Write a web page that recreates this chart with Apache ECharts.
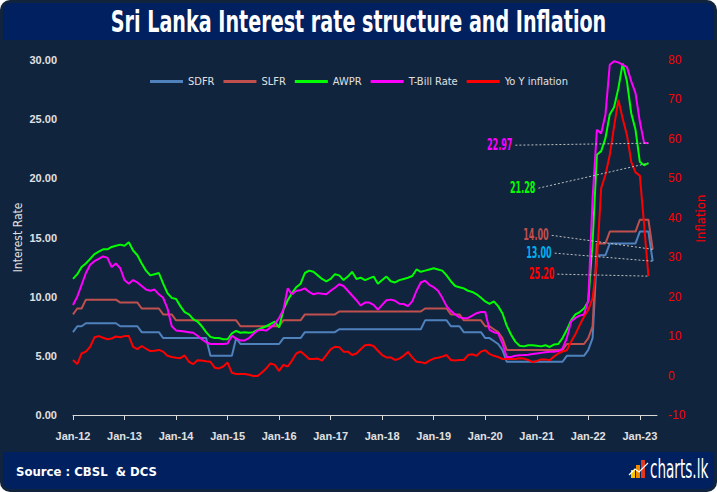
<!DOCTYPE html>
<html>
<head>
<meta charset="utf-8">
<script src="https://cdn.jsdelivr.net/npm/echarts@6.0.0/dist/echarts.min.js"></script>
<style>
html,body{margin:0;padding:0;background:#ffffff;}
#c{width:717px;height:492px;}
</style>
</head>
<body>
<div id="c"></div>
<script>
// ---------------- DATA ----------------
const monthNames = ['Jan','Feb','Mar','Apr','May','Jun','Jul','Aug','Sep','Oct','Nov','Dec'];
const categories = [];
for (let y = 12; y <= 23; y++) {
  for (let m = 0; m < 12; m++) {
    if (y === 23 && m > 4) break;
    categories.push(monthNames[m] + '-' + y);
  }
}
const seriesNames = ['SDFR', 'SLFR', 'AWPR', 'T-Bill Rate', 'Yo Y inflation'];
const leftTicks = [0, 5, 10, 15, 20, 25, 30];
const rightTicks = [-10, 0, 10, 20, 30, 40, 50, 60, 70, 80];

const sdfr = [
  7.00,
  7.50,7.50,
  7.75,7.75,7.75,7.75,7.75,7.75,7.75,7.75,
  7.50,7.50,7.50,7.50,7.50,
  7.00,7.00,7.00,7.00,7.00,
  6.50,6.50,6.50,6.50,6.50,6.50,6.50,6.50,6.50,6.50,6.50,
  5.00,5.00,5.00,5.00,5.00,5.00,
  6.50,
  6.00,6.00,6.00,6.00,6.00,6.00,6.00,6.00,6.00,6.00,
  6.50,6.50,6.50,6.50,6.50,
  7.00,7.00,7.00,7.00,7.00,7.00,7.00,7.00,
  7.25,7.25,7.25,7.25,7.25,7.25,7.25,7.25,7.25,7.25,7.25,7.25,7.25,7.25,7.25,7.25,7.25,7.25,7.25,7.25,
  8.00,8.00,8.00,8.00,8.00,8.00,
  7.50,7.50,7.50,
  7.00,7.00,7.00,7.00,7.00,
  6.50,6.50,
  6.25,
  6.00,
  5.50,
  4.50,4.50,4.50,4.50,4.50,4.50,4.50,4.50,4.50,4.50,4.50,4.50,4.50,4.50,
  5.00,5.00,5.00,5.00,5.00,
  5.50,
  6.50,
  13.50,13.50,13.50,
  14.50,14.50,14.50,14.50,14.50,14.50,14.50,
  15.50,15.50,15.50,
  13.00
];

const slfr = [
  8.50,
  9.00,9.00,
  9.75,9.75,9.75,9.75,9.75,9.75,9.75,9.75,
  9.50,9.50,9.50,9.50,9.50,
  9.00,9.00,9.00,9.00,9.00,
  8.50,8.50,8.50,
  8.00,8.00,8.00,8.00,8.00,8.00,8.00,8.00,8.00,8.00,8.00,8.00,8.00,8.00,8.00,
  7.50,7.50,7.50,7.50,7.50,7.50,7.50,7.50,7.50,7.50,
  8.00,8.00,8.00,8.00,8.00,
  8.50,8.50,8.50,8.50,8.50,8.50,8.50,8.50,
  8.75,8.75,8.75,8.75,8.75,8.75,8.75,8.75,8.75,8.75,8.75,8.75,8.75,8.75,8.75,8.75,8.75,8.75,8.75,8.75,
  9.00,9.00,9.00,9.00,9.00,9.00,
  8.50,8.50,8.50,
  8.00,8.00,8.00,8.00,8.00,
  7.50,7.50,
  7.25,
  7.00,
  6.50,
  5.50,5.50,5.50,5.50,5.50,5.50,5.50,5.50,5.50,5.50,5.50,5.50,5.50,5.50,
  6.00,6.00,6.00,6.00,6.00,
  6.50,
  7.50,
  14.50,14.50,14.50,
  15.50,15.50,15.50,15.50,15.50,15.50,15.50,
  16.50,16.50,16.50,
  14.00
];

const awpr = [
  11.5,11.9,12.5,12.8,13.2,13.6,13.8,14.0,14.0,14.2,14.3,14.4,
  14.3,14.6,13.9,13.5,12.8,12.2,11.8,11.9,12.0,11.1,10.3,9.9,
  9.8,9.2,8.7,8.5,8.1,7.9,7.5,7.0,6.6,6.5,6.5,6.4,
  6.4,6.9,7.1,6.95,7.0,6.95,7.0,7.2,7.35,7.5,7.7,7.9,
  7.4,8.9,9.7,10.3,10.8,11.1,12.0,12.2,12.1,11.8,11.5,11.3,
  11.5,11.9,11.8,11.4,11.7,12.1,11.5,11.6,11.4,11.55,11.7,11.1,
  11.4,11.7,11.3,11.2,11.4,11.5,11.6,11.75,12.3,12.1,12.2,12.3,
  12.4,12.3,12.2,11.8,11.3,10.9,10.8,10.7,10.5,10.4,10.2,9.9,
  9.6,9.4,9.6,9.2,8.6,7.55,6.8,6.2,5.86,5.8,5.9,5.9,
  5.85,5.8,5.9,5.75,5.95,6.0,6.5,7.2,8.0,8.5,8.7,9.0,
  9.6,14.6,22.0,22.3,23.4,25.4,26.0,27.6,29.7,28.2,25.5,24.1,
  21.4,21.1,21.28
];

const tbill = [
  9.3,10.0,11.0,12.0,12.7,13.0,13.2,13.4,13.3,12.5,12.8,12.4,
  11.4,11.1,11.4,11.2,10.9,10.6,10.5,10.6,10.2,9.9,9.0,7.5,
  7.15,7.1,7.05,7.0,6.95,6.7,6.4,6.15,6.0,6.0,6.0,6.0,
  6.05,6.7,6.45,6.3,6.3,6.5,6.85,7.15,7.2,7.13,7.4,7.7,
  8.2,8.9,10.7,10.2,10.5,10.55,10.7,10.4,10.2,10.3,10.25,10.2,
  10.5,10.75,11.05,10.9,10.5,10.1,9.7,9.25,9.5,9.5,9.3,8.9,
  9.3,9.7,9.75,9.66,9.4,9.38,9.2,9.6,10.5,11.2,11.35,11.0,
  10.8,10.5,9.9,9.2,8.8,8.5,8.25,8.17,8.2,8.4,8.6,8.7,
  8.7,7.2,7.0,6.9,6.06,4.9,4.9,5.0,5.05,5.07,5.1,5.15,
  5.2,5.25,5.3,5.35,5.35,5.4,5.6,6.5,7.9,8.2,8.4,8.5,
  9.7,18.3,24.1,23.8,25.4,29.6,29.9,29.8,29.6,29.4,28.2,27.2,
  24.8,23.0,22.97
];

const inflation = [
  3.95,2.9,5.6,6.06,7.3,9.7,10.0,9.6,9.2,9.4,9.9,9.7,
  10.0,10.0,7.3,6.7,7.5,6.8,6.2,6.3,6.5,6.06,5.0,4.7,
  4.5,4.4,5.1,3.5,2.9,3.9,3.8,3.6,3.5,2.0,1.8,2.3,
  3.3,0.7,0.4,0.4,0.4,0.2,-0.1,-0.1,0.8,1.8,3.1,2.7,
  1.2,2.7,2.3,3.8,5.6,6.1,5.2,4.2,4.2,4.3,3.8,5.2,
  6.65,7.3,7.2,6.06,6.06,5.2,5.6,6.65,7.7,7.8,7.5,6.3,
  5.2,4.6,4.6,3.95,4.3,5.0,6.0,4.6,3.5,3.4,3.1,3.8,
  4.3,4.5,4.8,5.2,3.95,3.8,3.95,3.95,5.2,5.4,5.0,6.06,
  6.4,5.5,5.0,4.7,4.2,4.2,4.2,4.2,4.4,4.3,3.95,3.4,
  3.7,4.1,4.1,3.9,4.8,5.6,6.1,6.4,8.6,10.5,12.8,14.9,
  16.6,19.6,28.9,47.5,50.9,55.9,63.1,69.9,65.2,61.0,54.2,51.5,
  50.7,38.2,25.2
];

// ---------------- STYLE ----------------
const FONT_C = '"DejaVu Sans Condensed","Liberation Sans",sans-serif';
const FONT_A = '"Liberation Sans",Arial,sans-serif';
const colors = {
  'SDFR': '#4f81bd',
  'SLFR': '#c0504d',
  'AWPR': '#00ff00',
  'T-Bill Rate': '#ff00ff',
  'Yo Y inflation': '#ff0000'
};
const labelColors = {
  'SDFR': '#00b0f0',
  'SLFR': '#c0504d',
  'AWPR': '#00ff00',
  'T-Bill Rate': '#ff00ff',
  'Yo Y inflation': '#ff0000'
};

function lineSeries(name, data, yIdx) {
  return {
    name: name, type: 'line', data: data, yAxisIndex: yIdx,
    showSymbol: false, symbol: 'none', smooth: false,
    color: colors[name],
    lineStyle: { width: 2, color: colors[name] },
    itemStyle: { color: colors[name] },
    emphasis: { disabled: true },
    animation: false
  };
}

const baseGraphics = [
  { type: 'rect', z: -10, silent: true, shape: { x: 0, y: 0, width: 717, height: 492, r: 10 }, style: { fill: '#10243e' } },
  { type: 'rect', z: -9, silent: true, shape: { x: 3, y: 3, width: 711, height: 37, r: [8, 8, 0, 0] }, style: { fill: '#002060' } },
  { type: 'rect', z: -9, silent: true, shape: { x: 3, y: 452, width: 711, height: 37, r: [0, 0, 8, 8] }, style: { fill: '#002060' } },
  { type: 'text', z: 10, silent: true, x: 358.5, y: 22, scaleX: 0.71,
    style: { text: 'Sri Lanka Interest rate structure and Inflation', fill: '#ffffff', font: 'bold 30px ' + FONT_C, align: 'center', verticalAlign: 'middle' } },
  { type: 'text', z: 10, silent: true, x: 16, y: 471, style: { text: 'Source : CBSL  & DCS', fill: '#ffffff', font: 'bold 13px ' + FONT_C, verticalAlign: 'middle' } },
  { type: 'rect', z: 10, silent: true, shape: { x: 631, y: 470, width: 4, height: 8 }, style: { fill: '#f7c600' } },
  { type: 'rect', z: 10, silent: true, shape: { x: 636, y: 465, width: 4, height: 13 }, style: { fill: '#f08a00' } },
  { type: 'rect', z: 10, silent: true, shape: { x: 641, y: 460, width: 4, height: 18 }, style: { fill: '#e03a1e' } },
  { type: 'polyline', z: 11, silent: true, shape: { points: [[629, 475], [635, 469], [639, 472], [648, 463]] }, style: { stroke: '#ffffff', lineWidth: 1.2, fill: null } },
  { type: 'text', z: 10, silent: true, x: 650, y: 469, scaleX: 0.58, style: { text: 'charts.lk', fill: '#ffffff', font: '26px ' + FONT_C, verticalAlign: 'middle' } }
];

const chart = echarts.init(document.getElementById('c'), null, { renderer: 'svg', width: 717, height: 492 });

const option = {
  backgroundColor: 'transparent',
  animation: false,
  graphic: baseGraphics,
  legend: {
    data: seriesNames,
    top: 76, left: 150, padding: 0,
    icon: 'rect', itemWidth: 33, itemHeight: 3, itemGap: 9,
    textStyle: { color: '#e0e0e0', fontSize: 11, fontFamily: FONT_C },
    selectedMode: false
  },
  grid: { left: 73, right: 60, top: 60, bottom: 77, containLabel: false, outerBoundsMode: 'none' },
  xAxis: {
    type: 'category', data: categories, boundaryGap: false,
    axisLine: { show: true, lineStyle: { color: '#d9d9d9', width: 1 } },
    axisTick: { show: true, interval: 11, length: 5, lineStyle: { color: '#d9d9d9' } },
    axisLabel: { interval: 11, color: '#e0e0e0', fontSize: 11, fontWeight: 'bold', fontFamily: FONT_A, margin: 15 },
    splitLine: { show: false }
  },
  yAxis: [
    {
      type: 'value', position: 'left',
      min: leftTicks[0], max: leftTicks[leftTicks.length - 1], interval: leftTicks[1] - leftTicks[0],
      name: 'Interest Rate', nameLocation: 'middle', nameGap: 49, nameRotate: 90, nameMoveOverlap: false,
      nameTextStyle: { color: '#e0e0e0', fontSize: 12, fontFamily: FONT_C },
      axisLabel: { formatter: function (v) { return v.toFixed(2); }, color: '#e0e0e0', fontSize: 11, fontWeight: 'bold', fontFamily: FONT_A, margin: 16 },
      axisLine: { show: false }, axisTick: { show: false }, splitLine: { show: false }
    },
    {
      type: 'value', position: 'right',
      min: rightTicks[0], max: rightTicks[rightTicks.length - 1], interval: rightTicks[1] - rightTicks[0],
      name: 'Inflation', nameLocation: 'middle', nameGap: 37, nameRotate: 90, nameMoveOverlap: false,
      nameTextStyle: { color: '#ff0000', fontSize: 13, fontFamily: FONT_C, padding: [0, 0, 0, 38] },
      axisLabel: { color: '#ff0000', fontSize: 12, fontFamily: FONT_A, margin: 11 },
      axisLine: { show: false }, axisTick: { show: false }, splitLine: { show: false }
    }
  ],
  series: [
    lineSeries('SDFR', sdfr, 0),
    lineSeries('SLFR', slfr, 0),
    lineSeries('AWPR', awpr, 0),
    lineSeries('T-Bill Rate', tbill, 0),
    lineSeries('Yo Y inflation', inflation, 1)
  ]
};
chart.setOption(option);

// End-of-series value annotations with dotted leader lines, anchored on the last data point
function endAnnot(name, data, yIdx, dxRight, dy) {
  const i = data.length - 1;
  const p = chart.convertToPixel({ xAxisIndex: 0, yAxisIndex: yIdx }, [categories[i], data[i]]);
  const rx = p[0] + dxRight, cy = p[1] + dy;
  return [
    { type: 'polyline', z: 19, silent: true, shape: { points: [[rx + 3, cy + 1], [p[0], p[1]]] },
      style: { stroke: '#bfbfbf', lineWidth: 1, lineDash: [2, 2], fill: null } },
    { type: 'text', z: 20, silent: true, x: rx, y: cy, scaleX: 0.56,
      style: { text: data[i].toFixed(2), fill: labelColors[name], font: 'bold 16px ' + FONT_C, align: 'right', verticalAlign: 'middle' } }
  ];
}
const annots = [].concat(
  endAnnot('T-Bill Rate', tbill, 0, -136, 1),
  endAnnot('AWPR', awpr, 0, -113, 24),
  endAnnot('SLFR', slfr, 0, -104, -15),
  endAnnot('SDFR', sdfr, 0, -101, -9),
  endAnnot('Yo Y inflation', inflation, 1, -94, -3)
);
chart.setOption({ graphic: baseGraphics.concat(annots) });
</script>
</body>
</html>
